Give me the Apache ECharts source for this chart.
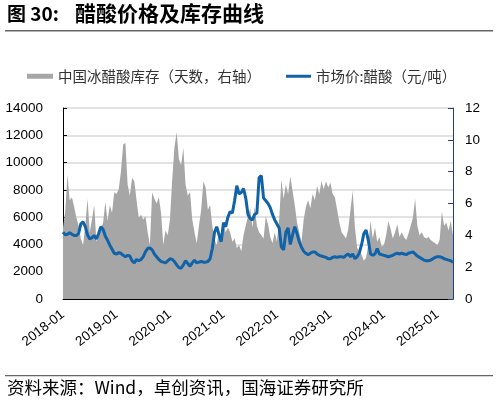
<!DOCTYPE html>
<html>
<head>
<meta charset="utf-8">
<script src="https://cdn.jsdelivr.net/npm/echarts@6/dist/echarts.min.js"></script>
<style>
html,body{margin:0;padding:0;background:#fff;}
#chart{width:498px;height:403px;}
</style>
</head>
<body>
<div id="chart"></div>
<script>
// Semi-monthly observation dates (1st and 16th of each month), 2018-01-01 .. 2025-04-16
const startYear = 2018;
const pointCount = 176;
const dates = [];
for (let y = startYear; dates.length < pointCount; y++) {
  for (let m = 1; m <= 12 && dates.length < pointCount; m++) {
    const mm = (m < 10 ? '0' : '') + m;
    dates.push(y + '-' + mm + '-01');
    if (dates.length < pointCount) dates.push(y + '-' + mm + '-16');
  }
}

// 中国冰醋酸库存（天数，右轴）
const inv2018 = [4.5,5.5,7.8,6.2,6.4,5.8,5.1,4.6,3.8,3.4,4.6,6.3,4.2,5.0,5.9,3.6,4.0,4.4,4.8,6.1,4.9,5.9,5.4,6.7];
const inv2019 = [6.6,6.9,8.0,9.7,9.8,7.2,6.5,7.6,7.4,6.2,5.1,5.3,5.0,5.2,4.2,3.4,6.7,6.3,6.0,6.4,5.4,3.4,4.3,4.0];
const inv2020 = [5.0,7.5,9.5,10.5,8.8,8.4,9.5,7.2,6.5,6.7,5.0,4.2,3.5,4.6,5.6,7.4,7.0,5.6,5.9,4.6,3.7,3.4,4.3,4.0];
const inv2021 = [4.8,4.2,4.5,4.2,3.6,3.8,3.2,3.4,3.0,4.0,4.6,5.2,5.7,4.5,5.8,4.6,4.2,4.0,3.8,5.2,4.7,3.9,3.5,4.2];
const inv2022 = [3.6,5.0,7.5,6.3,7.2,6.6,7.7,6.8,5.9,4.8,4.2,3.6,5.0,5.8,6.2,5.7,6.6,6.2,7.1,6.6,7.4,6.9,7.4,7.0];
const inv2023 = [7.3,6.6,6.4,5.6,4.8,4.2,4.0,3.8,4.4,5.6,6.8,4.5,3.2,3.0,2.8,2.4,2.6,3.4,4.9,3.8,4.5,3.6,3.9,3.3];
const inv2024 = [3.4,4.0,4.9,4.4,3.8,4.2,4.7,3.9,4.2,3.9,3.7,4.1,4.6,5.1,6.3,4.6,4.0,4.2,3.9,3.8,3.9,3.7,3.6,3.5];
const inv2025 = [3.4,3.7,5.5,4.6,4.8,4.3,4.9,4.0];

// 市场价:醋酸（元/吨）
const price2018 = [4900,4700,4750,4850,4750,4650,4650,4800,5500,5650,5300,4700,4400,4500,4650,4400,4800,5300,5100,4600,4300,3950,3650,3350];
const price2019 = [3300,3400,3350,3200,3100,3200,3150,2800,2650,2900,2800,2900,3100,3450,3700,3750,3600,3300,3100,2900,2750,2700,2650,2800];
const price2020 = [2950,2900,2750,2500,2300,2250,2500,2800,2600,2400,2650,2850,2650,2700,2750,2700,2700,2750,2950,3700,4900,5300,4700,4200];
const price2021 = [5600,5300,6000,6400,6300,7200,8300,7700,7800,8100,7400,6200,5900,5800,6200,6300,8900,9050,7400,7200,7000,6700,6200,5800];
const price2022 = [5500,5200,3800,3600,4900,5200,4000,4700,5300,4800,4200,3800,3500,3350,3250,3350,3450,3450,3300,3200,3150,3100,3050,2950];
const price2023 = [2950,3050,3100,3050,3100,3100,3050,3200,3300,3100,3300,2950,3100,3400,4000,4800,5050,4300,3300,3200,3300,3700,3300,3250];
const price2024 = [3200,3150,3100,3150,3200,3300,3350,3300,3350,3300,3250,3350,3400,3450,3300,3150,3050,2950,2850,2800,2800,2850,2950,3050];
const price2025 = [3100,3100,3050,2950,2900,2850,2800,2700];

const leftTicks = [0, 14000, 2000];
const rightTicks = [0, 12, 2];

const inventory = [].concat(inv2018, inv2019, inv2020, inv2021, inv2022, inv2023, inv2024, inv2025);
const price = [].concat(price2018, price2019, price2020, price2021, price2022, price2023, price2024, price2025);

const invName = '中国冰醋酸库存（天数，右轴）';
const priceName = '市场价:醋酸（元/吨）';
const cjk = '"Noto Sans CJK SC", sans-serif';
const latin = '"Liberation Sans", Arial, sans-serif';

const chart = echarts.init(document.getElementById('chart'), null, {renderer: 'canvas'});
chart.setOption({
  animation: false,
  backgroundColor: '#fff',
  grid: {left: 63, right: 45, top: 108, bottom: 104, containLabel: false},
  legend: [
    {data: [invName], left: 22, top: 64, icon: 'rect', itemWidth: 26, itemHeight: 5, itemGap: 6,
     textStyle: {fontSize: 14.5, color: '#333', fontFamily: cjk}},
    {data: [priceName], left: 281, top: 64, icon: 'rect', itemWidth: 25, itemHeight: 3,
     textStyle: {fontSize: 14.5, color: '#333', fontFamily: cjk}}
  ],
  xAxis: {
    type: 'category',
    data: dates,
    boundaryGap: false,
    axisLine: {lineStyle: {color: '#000', width: 1}},
    axisTick: {inside: true, interval: 23, length: 4, lineStyle: {color: '#000'}},
    axisLabel: {interval: 23, rotate: 38, margin: 14, fontSize: 13.5, color: '#000', fontFamily: latin,
      formatter: v => v.slice(0, 7)},
    splitLine: {show: false}
  },
  yAxis: [
    {type: 'value', min: leftTicks[0], max: leftTicks[1], interval: leftTicks[2],
     axisLine: {show: true, lineStyle: {color: '#000'}},
     axisTick: {show: true, inside: true, length: 4, lineStyle: {color: '#000'}},
     axisLabel: {margin: 20, fontSize: 13.5, color: '#000', fontFamily: latin, formatter: v => String(v)},
     splitLine: {show: true, lineStyle: {color: '#d9d9d9', width: 1.5}}},
    {type: 'value', min: rightTicks[0], max: rightTicks[1], interval: rightTicks[2], position: 'right',
     axisLine: {show: true, lineStyle: {color: '#24407a'}},
     axisTick: {show: true, inside: true, length: 5, lineStyle: {color: '#24407a'}},
     axisLabel: {margin: 12, fontSize: 13.5, color: '#000', fontFamily: latin, formatter: v => String(v)},
     splitLine: {show: false}}
  ],
  series: [
    {name: invName, type: 'line', yAxisIndex: 1, data: inventory, symbol: 'none',
     lineStyle: {width: 0}, areaStyle: {color: '#a6a6a6', opacity: 1}, itemStyle: {color: '#a6a6a6'}, z: 1},
    {name: priceName, type: 'line', yAxisIndex: 0, data: price, symbol: 'none',
     lineStyle: {width: 3, color: '#1063a9'}, itemStyle: {color: '#1063a9'}, z: 3}
  ],
  graphic: [
    {type: 'text', left: 7, top: 4, style: {text: '图 30:', fontSize: 19, fontWeight: 'bold', fill: '#000', fontFamily: cjk}},
    {type: 'text', left: 75, top: 3, style: {text: '醋酸价格及库存曲线', fontSize: 21, fontWeight: 'bold', fill: '#000', fontFamily: cjk}},
    {type: 'rect', shape: {x: 5, y: 30, width: 488, height: 1.5}, style: {fill: '#666'}},
    {type: 'rect', shape: {x: 5, y: 375, width: 488, height: 1.2}, style: {fill: '#666'}},
    {type: 'text', left: 7, top: 379, style: {text: '资料来源：Wind，卓创资讯，国海证券研究所', fontSize: 17.5, fill: '#000', fontFamily: cjk}}
  ]
});
</script>
</body>
</html>
